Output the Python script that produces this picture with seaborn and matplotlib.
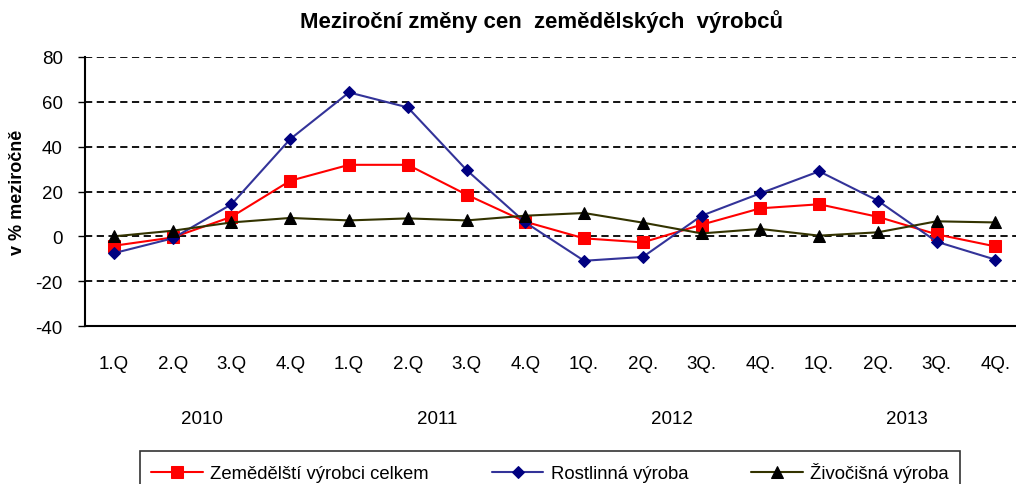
import matplotlib
matplotlib.use("Agg")
import matplotlib.pyplot as plt
import seaborn as sns
import pandas as pd
import numpy as np

quarters = ["1.Q", "2.Q", "3.Q", "4.Q", "1.Q", "2.Q", "3.Q", "4.Q",
            "1Q.", "2Q.", "3Q.", "4Q.", "1Q.", "2Q.", "3Q.", "4Q."]
years = ["2010", "2011", "2012", "2013"]
celkem = [-4.2, -0.5, 8.7, 24.8, 31.9, 31.9, 18.6, 6.5,
          -0.9, -2.7, 5.2, 12.5, 14.3, 8.7, 0.9, -4.5]
rostlinna = [-7.5, -0.9, 14.3, 43.4, 64.2, 57.5, 29.6, 6.2,
             -10.9, -9.2, 9.2, 19.2, 29.0, 15.9, -2.4, -10.4]
zivocisna = [0.0, 2.5, 6.2, 8.2, 7.1, 8.0, 7.1, 9.2,
             10.4, 6.1, 1.3, 3.3, 0.3, 1.8, 6.7, 6.2]
series_names = ["Zemědělští výrobci celkem", "Rostlinná výroba", "Živočišná výroba"]

sns.set_theme(style="white")
plt.rcParams["font.family"] = ["Liberation Sans", "DejaVu Sans"]
plt.rcParams["axes.unicode_minus"] = False
plt.rcParams["text.color"] = "black"
plt.rcParams["xtick.color"] = "black"
plt.rcParams["ytick.color"] = "black"
plt.rcParams["axes.labelcolor"] = "black"

fig = plt.figure(figsize=(10.16, 4.85), dpi=100)
ax = fig.add_axes([85/1016, 1-327/485, 1-85/1016, (327-58)/485])

pos = np.arange(len(quarters))
df = pd.DataFrame({"pos": pos, "celkem": celkem, "rost": rostlinna, "ziv": zivocisna})

styles = [
    ("celkem", series_names[0], "#FF0000", "#FF0000", "s", 8),
    ("rost", series_names[1], "#333399", "#000080", "D", 6),
    ("ziv", series_names[2], "#333300", "#000000", "^", 8),
]
for col, name, lc, mc, mk, ms in styles:
    sns.lineplot(data=df, x="pos", y=col, ax=ax, color=lc, marker=mk,
                 markersize=ms, markerfacecolor=mc, markeredgecolor=mc,
                 linewidth=1.5, label=name, legend=False)

ax.set_ylim(-40, 80)
ax.set_yticks(range(-40, 81, 20))
ax.set_xlim(-0.493, 15.35)
ax.set_xticks(pos)
ax.set_xticklabels(quarters, fontsize=13.5)
ax.tick_params(axis="x", length=0, pad=21)
ax.tick_params(axis="y", labelsize=13.5, length=5, width=1, color="black",
               direction="out", left=True, pad=11)
for yv in range(-20, 81, 20):
    ax.axhline(yv, color="black", linestyle=(0, (4, 2.5)), linewidth=1.3, zorder=0)
ax.grid(False)
for s in ["top", "right"]:
    ax.spines[s].set_visible(False)
for s in ["left", "bottom"]:
    ax.spines[s].set_color("black")
    ax.spines[s].set_linewidth(1.5)
ax.set_xlabel("")
ax.set_ylabel("v % meziročně", fontsize=13, fontweight="bold")
ax.yaxis.set_label_coords(-0.0634, 0.5)

for i, yr in enumerate(years):
    ax.text(4*i + 1.5, -0.345, yr, transform=ax.get_xaxis_transform(),
            ha="center", va="center", fontsize=13.5)

fig.text(542/1016, 1-22/485, "Meziroční změny cen  zemědělských  výrobců",
         ha="center", va="center", fontsize=16, fontweight="bold")

handles, labels = ax.get_legend_handles_labels()
leg = fig.legend(handles, labels, loc="upper left", ncol=3,
                 bbox_to_anchor=(140/1016, 1-452/485 - 0.1, 820/1016, 0.1),
                 mode="expand", frameon=True, fancybox=False, edgecolor="black",
                 fontsize=13.3, handlelength=2.8, handletextpad=0.4,
                 borderaxespad=0, borderpad=0.6, columnspacing=1.5)
leg.get_frame().set_linewidth(1.2)

fig.savefig("out.png", dpi=100)
